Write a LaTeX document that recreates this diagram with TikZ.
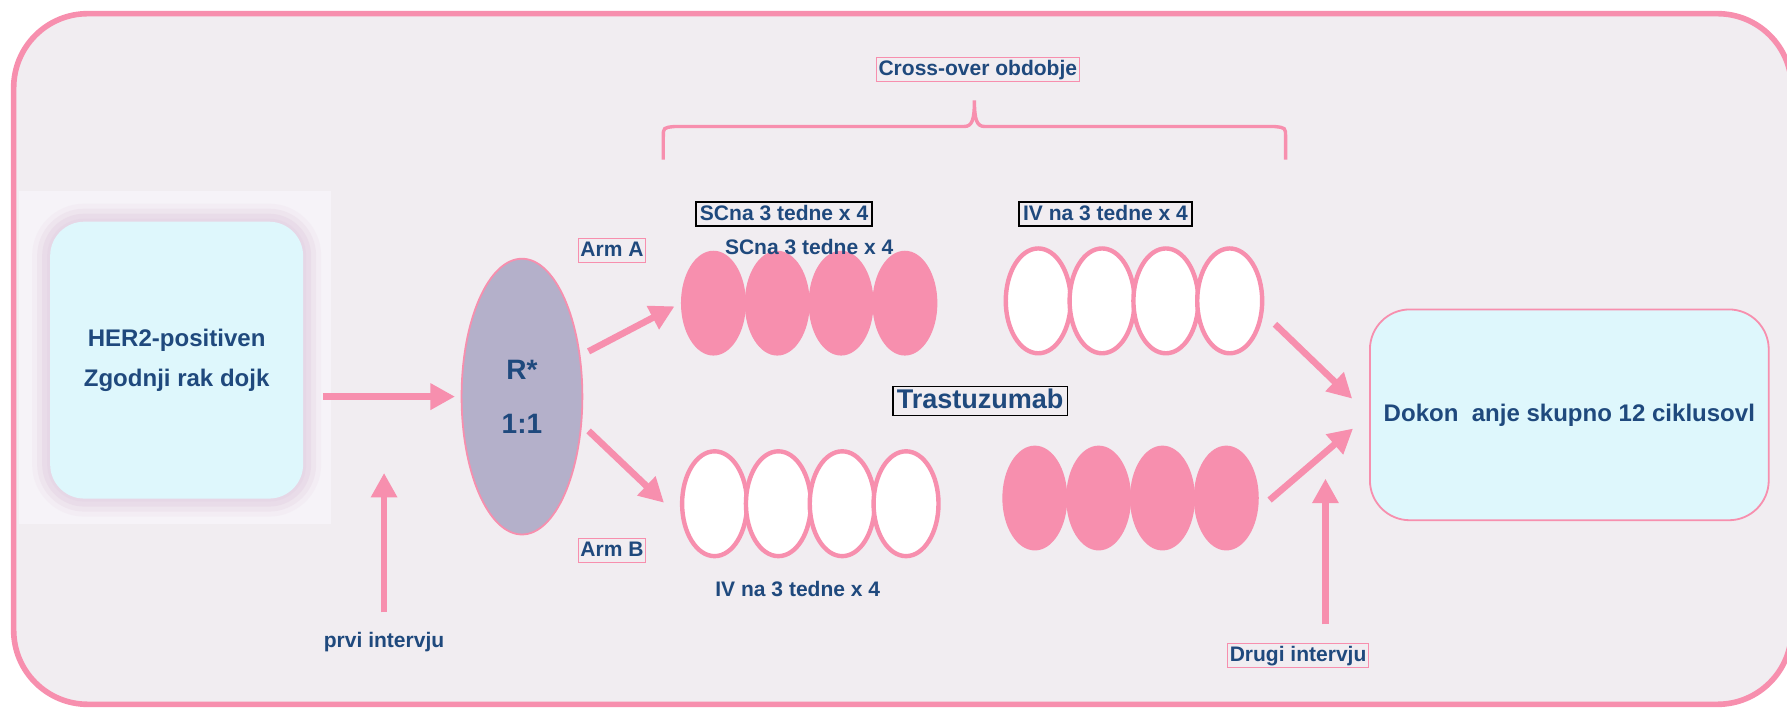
\documentclass[tikz,border=0pt]{standalone}
\usepackage{fontspec}
\setmainfont{Liberation Sans}
\usepackage{tikz}
\usetikzlibrary{arrows.meta,shapes.geometric}
\definecolor{rosa}{HTML}{F78FAE}
\definecolor{navy}{HTML}{1F497D}
\definecolor{sky}{HTML}{DEF7FC}
\definecolor{lila}{HTML}{B4B0CA}
\definecolor{slide}{HTML}{F1EDF1}
\definecolor{pale}{HTML}{F6F3F8}
\definecolor{glow}{HTML}{E2CEE0}

\begin{document}
\begin{tikzpicture}[x=0.02cm, y=-0.02cm,
	txt/.style={text=navy, font=\bfseries\fontsize{10.5}{12}\selectfont, inner sep=1pt},
	lbl/.style={txt, text height=8pt, text depth=2pt, inner xsep=1pt},
	pinklbl/.style={lbl, draw=rosa, line width=0.6pt},
	blacklbl/.style={lbl, draw=black, line width=0.8pt, inner xsep=2pt},
	dose/.style={ellipse, minimum width=1.14cm, minimum height=1.84cm, inner sep=0pt},
	filldose/.style={dose, fill=rosa},
	opendose/.style={dose, fill=white, draw=rosa, line width=2.2pt},
	arr/.style={rosa, line width=3.3pt, -{Triangle[length=0.43cm, width=0.44cm]}}]
\useasboundingbox (0,0) rectangle (1568,621);
\draw[rosa, line width=2.8pt, fill=slide, rounded corners=1.3cm] (12,12) rectangle (1572,618);
\fill[pale] (17,168) rectangle (290,460);

\node[txt, font=\bfseries\fontsize{12}{20}\selectfont, align=center,
	fill=sky, rounded corners=0.6cm, minimum width=4.44cm, minimum height=4.86cm,
	preaction={draw=glow, line width=18pt, opacity=.15},
	preaction={draw=glow, line width=13pt, opacity=.25},
	preaction={draw=glow, line width=8pt, opacity=.35},
	preaction={draw=glow, line width=3pt, opacity=.3}] (her2) at (155,316) {HER2-positiven\\Zgodnji rak dojk};
\node[txt, font=\bfseries\fontsize{14}{27}\selectfont, align=center,
	ellipse, fill=lila, draw=rosa, line width=0.9pt, minimum width=2.12cm, minimum height=4.84cm] (R) at (458,348) {R*\\1:1};
\node[txt, font=\bfseries\fontsize{12}{14}\selectfont,
	fill=sky, draw=rosa, line width=0.9pt, rounded corners=0.7cm, minimum width=7cm, minimum height=3.7cm] (dokon) at (1377,364) {Dokon~ anje skupno 12 ciklusovl};

\foreach \i in {1,...,4} {
	\node[filldose] (a\i) at ({570+56*\i},266) {};
	\node[opendose] (b\i) at ({571+56*\i},442) {};
	\node[opendose] (c\i) at ({855+56*\i},264) {};
	\node[filldose] (d\i) at ({852+56*\i},437) {};
}

\node[pinklbl] (armA) at (537,220) {Arm A};
\node[pinklbl] (armB) at (537,483) {Arm B};
\node[blacklbl] (scbox) at (688,188) {SCna 3 tedne x 4};
\node[txt] (sc) at (710,217) {SCna 3 tedne x 4};
\node[blacklbl] (ivbox) at (970,188) {IV na 3 tedne x 4};
\node[txt] (iv) at (700,517) {IV na 3 tedne x 4};
\node[blacklbl, font=\bfseries\fontsize{13.5}{15}\selectfont, text height=10pt, text depth=2.5pt] (trast) at (860,352) {Trastuzumab};
\node[pinklbl] (cross) at (858,61) {Cross-over obdobje};
\node[txt] (prvi) at (337,563) {prvi intervju};
\node[pinklbl] (drugi) at (1139,575) {Drugi intervju};
\coordinate (tip1) at (337,415);
\coordinate (tip2) at (1163,420);

\draw[rosa, line width=1.7pt] (582,140) -- (582,120) .. controls (582,112) .. (592,111) -- (846,111)
	.. controls (853,111) and (855,105) .. (855,88) .. controls (855,105) and (857,111) .. (864,111)
	-- (1118,111) .. controls (1128,112) .. (1128,120) -- (1128,140);

\draw[arr, shorten <=0.34cm, shorten >=0.1cm] (her2.east |- R) -- (R.west);
\draw[arr, shorten <=0.16cm, shorten >=0.12cm] (R.35) -- (a1.west);
\draw[arr, shorten <=0.16cm, shorten >=0.42cm] (R.-25) -- (b1.205);
\draw[arr, shorten <=0.28cm, shorten >=0.41cm] (c4.-20) -- (dokon.west);
\draw[arr, shorten <=0.26cm, shorten >=0.37cm] (d4.-20) -- (dokon.west);
\draw[arr, shorten <=0.3cm] (prvi) -- (tip1);
\draw[arr, shorten <=0.32cm] (drugi.north -| tip2) -- (tip2);
\end{tikzpicture}
\end{document}
